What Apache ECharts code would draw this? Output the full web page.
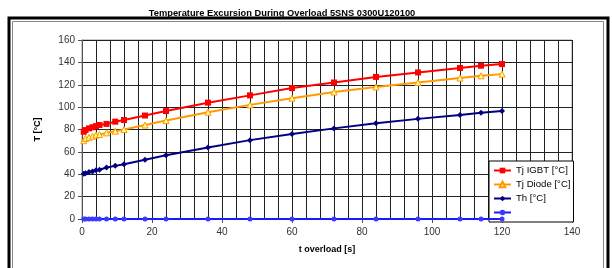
<!DOCTYPE html>
<html>
<head>
<meta charset="utf-8">
<script src="https://cdn.jsdelivr.net/npm/echarts@6/dist/echarts.min.js"></script>
<style>
  html, body { margin: 0; padding: 0; background: #fff; }
  #main { width: 612px; height: 268px; }
</style>
</head>
<body>
<div id="main"></div>
<script>
// time points (s)
const tOverload = [0.5, 1, 2, 3, 4, 5, 7, 9.5, 12, 18, 24, 36, 48, 60, 72, 84, 96, 108, 114, 120];
const tjIgbt  = [78, 79.5, 81, 82, 83, 84, 85, 87, 88.5, 92.5, 96.5, 104, 110.5, 117, 122, 127, 131, 135, 137, 138.5];
const tjDiode = [70, 72, 73, 74, 75, 75.5, 77, 78.5, 80, 84, 88, 95.5, 102, 108, 113.5, 118, 122, 126, 128, 129.5];
const th      = [40.5, 41, 42, 42.5, 43.5, 44, 46, 47.5, 49, 53, 57, 64, 70.5, 76, 81, 85.5, 89.5, 93, 95, 96.5];
const blank   = [0, 0, 0, 0, 0, 0, 0, 0, 0, 0, 0, 0, 0, 0, 0, 0, 0, 0, 0, 0];

const titleText = 'Temperature Excursion During Overload 5SNS 0300U120100';
const seriesNames = ['Tj IGBT [°C]', 'Tj Diode [°C]', 'Th [°C]', ' '];

function pairs(ys) {
    return tOverload.map((t, i) => [t, ys[i]]);
}

const font = 'Arial, "Liberation Sans", sans-serif';

const chart = echarts.init(document.getElementById('main'));
const option = {
    animation: false,
    backgroundColor: '#fff',
    textStyle: { fontFamily: font },
    title: {
        text: titleText,
        left: 277,
        textAlign: 'center',
        top: 4,
        textStyle: { fontSize: 9.3, fontWeight: 'bold', color: '#000', fontFamily: font }
    },
    graphic: [
        { type: 'rect', shape: { x: 9, y: 18, width: 599, height: 270 },
          style: { fill: 'none', stroke: '#000', lineWidth: 3 }, z: 100 },
        { type: 'rect', shape: { x: 12.5, y: 21.5, width: 591, height: 270 },
          style: { fill: 'none', stroke: '#888', lineWidth: 1 }, z: 100 }
    ],
    grid: {
        left: 82, right: 40, top: 40, bottom: 49,
        show: true, borderColor: '#999', borderWidth: 1
    },
    legend: {
        orient: 'vertical',
        left: 489,
        top: 161,
        padding: [4, 3, 4, 4],
        itemGap: 3,
        itemWidth: 17,
        itemHeight: 7,
        backgroundColor: '#fff',
        borderColor: '#000',
        borderWidth: 1,
        data: seriesNames,
        textStyle: { fontSize: 9.6, color: '#000', lineHeight: 11, fontFamily: font }
    },
    xAxis: {
        type: 'value',
        min: 0, max: 140, interval: 20,
        name: 't overload [s]',
        nameLocation: 'middle',
        nameGap: 26,
        nameTextStyle: { fontSize: 9, fontWeight: 'bold', color: '#000' },
        axisLine: { show: true, lineStyle: { color: '#555', width: 1 } },
        axisTick: { show: true, length: 4, lineStyle: { color: '#555' } },
        axisLabel: { fontSize: 10, color: '#333', margin: 8 },
        splitLine: { show: true, lineStyle: { color: '#222', width: 1 } },
        minorTick: { show: false, splitNumber: 5 },
        minorSplitLine: { show: true, lineStyle: { color: '#222', width: 1 } }
    },
    yAxis: {
        type: 'value',
        min: 0, max: 160, interval: 20,
        name: 'T [°C]',
        nameLocation: 'middle',
        nameGap: 40,
        nameRotate: 90,
        nameTextStyle: { fontSize: 9, fontWeight: 'bold', color: '#000' },
        axisLine: { show: true, lineStyle: { color: '#555', width: 1 } },
        axisTick: { show: true, length: 4, lineStyle: { color: '#555' } },
        axisLabel: { fontSize: 10, color: '#333', margin: 7 },
        splitLine: { show: true, lineStyle: { color: '#222', width: 1 } }
    },
    series: [
        {
            name: seriesNames[0], type: 'line', data: pairs(tjIgbt),
            symbol: 'rect', symbolSize: 6,
            lineStyle: { color: '#ff0000', width: 2 },
            itemStyle: { color: '#ff0000' }, z: 5
        },
        {
            name: seriesNames[1], type: 'line', data: pairs(tjDiode),
            symbol: 'triangle', symbolSize: 6,
            lineStyle: { color: '#ff9900', width: 2 },
            itemStyle: { color: '#ffff99', borderColor: '#ff9900', borderWidth: 1 }, z: 4
        },
        {
            name: seriesNames[2], type: 'line', data: pairs(th),
            symbol: 'diamond', symbolSize: 6,
            lineStyle: { color: '#000080', width: 2 },
            itemStyle: { color: '#000080' }, z: 3
        },
        {
            name: seriesNames[3], type: 'line', data: pairs(blank),
            symbol: 'circle', symbolSize: 5,
            lineStyle: { color: '#1a1aff', width: 2 },
            itemStyle: { color: '#3a3aff' }, z: 6
        }
    ]
};
chart.setOption(option);
</script>
</body>
</html>
